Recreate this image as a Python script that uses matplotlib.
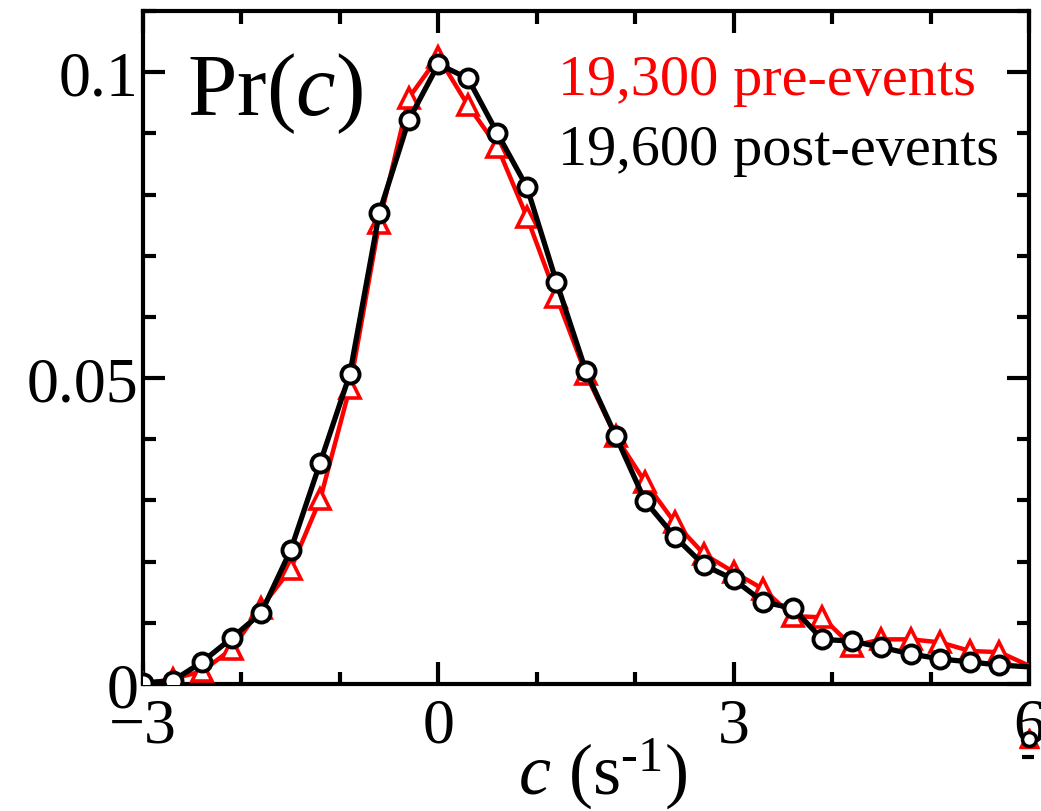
import matplotlib
matplotlib.use("Agg")
import matplotlib.pyplot as plt
from matplotlib.ticker import MultipleLocator, FixedLocator, FixedFormatter

plt.rcParams['font.family'] = ['Liberation Serif', 'DejaVu Serif']
plt.rcParams['mathtext.fontset'] = 'custom'
plt.rcParams['mathtext.rm'] = 'Liberation Serif'
plt.rcParams['mathtext.it'] = 'Liberation Serif:italic'

# Valores (passo de 0.3 em c)
c = [-3.0, -2.7, -2.4, -2.1, -1.8, -1.5, -1.2, -0.9, -0.6, -0.3, 0.0,
     0.3, 0.6, 0.9, 1.2, 1.5, 1.8, 2.1, 2.4, 2.7, 3.0,
     3.3, 3.6, 3.9, 4.2, 4.5, 4.8, 5.1, 5.4, 5.7, 6.0]
pre = [0.0000, 0.0008, 0.0021, 0.0057, 0.0125, 0.0188, 0.0302, 0.0484, 0.0754, 0.0958, 0.1025,
       0.0946, 0.0878, 0.0763, 0.0633, 0.0506, 0.0405, 0.0330, 0.0264, 0.0212, 0.0183,
       0.0155, 0.0111, 0.0109, 0.0062, 0.0073, 0.0073, 0.0068, 0.0054, 0.0052, 0.0030]
post = [0.0002, 0.0005, 0.0036, 0.0075, 0.0116, 0.0219, 0.0362, 0.0506, 0.0770, 0.0922, 0.1013,
        0.0990, 0.0900, 0.0812, 0.0657, 0.0511, 0.0406, 0.0299, 0.0241, 0.0194, 0.0171,
        0.0134, 0.0124, 0.0073, 0.0070, 0.0060, 0.0049, 0.0041, 0.0036, 0.0031, 0.0028]

x_ticks = [-3, 0, 3, 6]
x_labels = ['\u22123', '0', '3', '6']
y_ticks = [0, 0.05, 0.1]
y_labels = ['0', '0.05', '0.1']

fig = plt.figure(figsize=(10.41, 8.12), dpi=100)
ax = fig.add_axes([0.1374, 0.1564, 0.8511, 0.8288])

ax.plot(c, pre, color='red', lw=3.2, marker='^', ms=14, mfc='white', mec='red', mew=2.6,
        markevery=list(range(len(c) - 1)), zorder=3)
ax.plot(c, post, color='black', lw=3.8, marker='o', ms=13, mfc='white', mec='black', mew=2.8,
        markevery=list(range(len(c) - 1)), zorder=4)

# marcadores soltos abaixo do "6" como na figura original
ax.plot([0.9995], [-0.080], transform=ax.transAxes, marker='^', ms=14, mfc='red', mec='red',
        clip_on=False, zorder=5)
ax.plot([0.9995], [-0.082], transform=ax.transAxes, marker='o', ms=10, mfc='white', mec='black',
        mew=2.5, clip_on=False, zorder=6)
ax.plot([0.9985], [-0.108], transform=ax.transAxes, marker='_', ms=9, mec='black', mew=3,
        clip_on=False, zorder=6)

ax.set_xlim(-3, 6)
ax.set_ylim(0, 0.11)

ax.xaxis.set_major_locator(FixedLocator(x_ticks))
ax.xaxis.set_major_formatter(FixedFormatter(x_labels))
ax.xaxis.set_minor_locator(MultipleLocator(1))
ax.yaxis.set_major_locator(FixedLocator(y_ticks))
ax.yaxis.set_major_formatter(FixedFormatter(y_labels))
ax.yaxis.set_minor_locator(MultipleLocator(0.01))

ax.tick_params(which='both', direction='in', top=True, right=True, width=3, labelsize=46)
ax.tick_params(which='major', length=16)
ax.tick_params(which='minor', length=9)
ax.tick_params(axis='x', pad=10)
ax.tick_params(axis='y', pad=3)
for s in ax.spines.values():
    s.set_linewidth(3)

ax.text(0.050, 0.847, 'Pr($c$)', transform=ax.transAxes, fontsize=64, va='baseline')
ax.text(0.940, 0.877, '19,300 pre-events', transform=ax.transAxes, fontsize=42,
        color='red', ha='right', va='baseline')
ax.text(0.966, 0.773, '19,600 post-events', transform=ax.transAxes, fontsize=42,
        color='black', ha='right', va='baseline')

fig.text(0.579, 0.023, '$c$ (s$^{\\text{-}1}$)', fontsize=52, ha='center', va='baseline')

plt.savefig('out.png', dpi=100)
